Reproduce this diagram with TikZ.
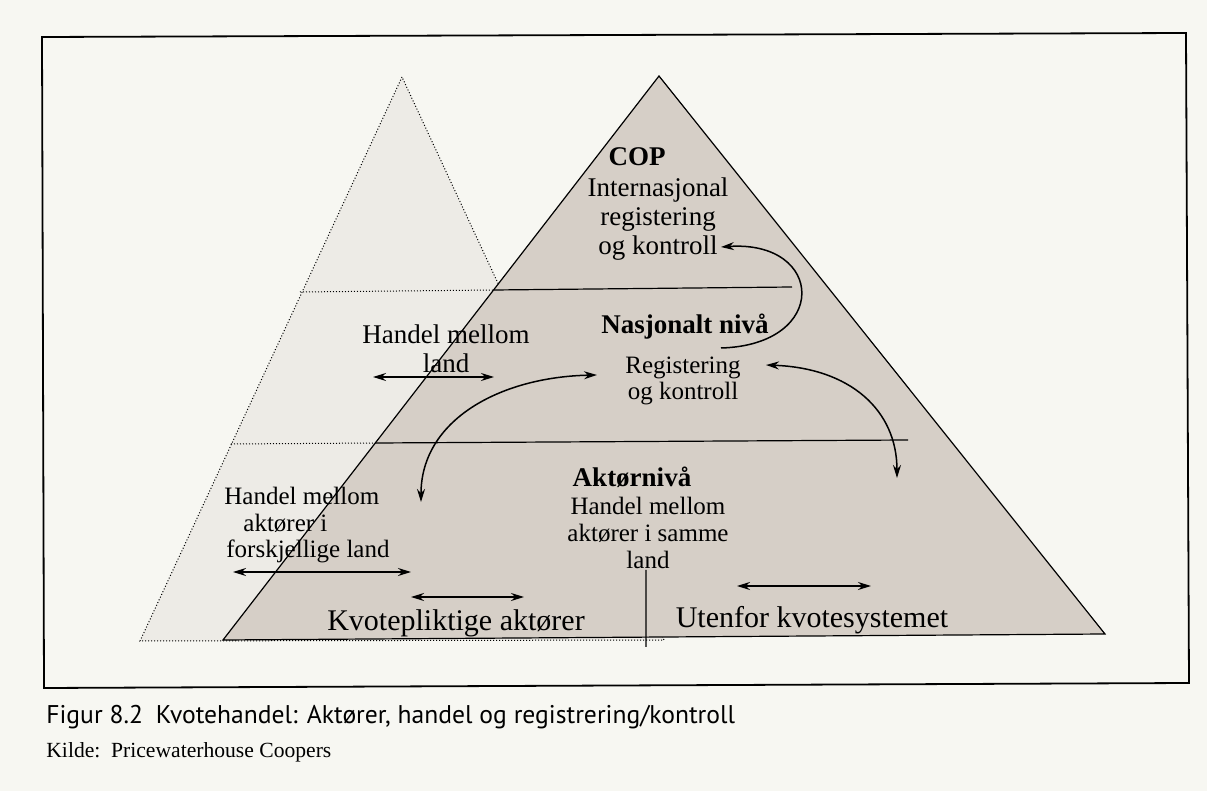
\documentclass[tikz,border=0pt]{standalone}
\usepackage{fontspec}
\setmainfont{Liberation Serif}
\newfontfamily\capfont{PT Sans}
\usetikzlibrary{arrows.meta}
\definecolor{paper}{RGB}{247,247,242}
\definecolor{lightpyr}{RGB}{237,235,230}
\definecolor{darkpyr}{RGB}{214,207,199}

\begin{document}
\begin{tikzpicture}[x=0.5pt,y=-0.5pt,
	txt/.style={inner sep=0pt, align=center, font=\fontsize{12.5}{13.3}\selectfont},
	copt/.style={inner sep=0pt, align=center, font=\fontsize{13.5}{14.5}\selectfont},
	big/.style={inner sep=0pt, font=\fontsize{15}{16}\selectfont},
	head/.style={inner sep=0pt, font=\fontsize{13.5}{14.5}\selectfont\bfseries},
	trade/.style={{Stealth[length=6.5pt,width=4pt]}-{Stealth[length=6.5pt,width=4pt]}, line width=0.75pt},
	oneway/.style={-{Stealth[length=6.5pt,width=4pt]}, line width=0.75pt}]
	\fill[paper] (0,0) rectangle (1207,791);
	\draw[line width=0.9pt] (42,37) -- (1186,33) -- (1189,683) -- (44,688) -- cycle;
	% the two pyramids
	\draw[fill=lightpyr, densely dotted, line width=0.5pt] (402,77) -- (140,641) -- (664,640) -- cycle;
	\draw[fill=darkpyr, line width=0.6pt] (659,76) -- (223,640) -- (1105,634) -- cycle;
	\draw[densely dotted, line width=0.5pt] (300,292) -- (494,290) (231,444) -- (376,443);
	\draw[line width=0.6pt] (494,290) -- (792,287) (376,443) -- (908,440) (646,570) -- (646,647);
	% levels and labels
	\node[head] (cop) at (637,157) {COP};
	\node[copt] (intl) at (658,219) {Internasjonal\\registering\\og kontroll};
	\node[head] (nasj) at (685,327) {Nasjonalt nivå};
	\node[txt] (nreg) at (683,381) {Registering\\og kontroll};
	\node[copt] (land) at (446,349) {Handel mellom\\land};
	\node[head] (aktor) at (632,477) {Aktørnivå};
	\node[txt] (samme) at (648,533) {Handel mellom\\aktører i samme\\land};
	\node[txt, align=left, anchor=north west] (forsk) at (224,487) {Handel mellom\\\hspace*{9.5pt}aktører i\\\hspace*{1pt}forskjellige land};
	\node[big] (kvote) at (456,623) {Kvotepliktige aktører};
	\node[big] (utenfor) at (812,620) {Utenfor kvotesystemet};
	% arrow ends
	\coordinate (landL) at (373,377);
	\coordinate (landR) at (494,377);
	\coordinate (forskL) at (233,572);
	\coordinate (forskR) at (411,572);
	\coordinate (kvoteL) at (411,597);
	\coordinate (kvoteR) at (524,597);
	\coordinate (utenL) at (737,586);
	\coordinate (utenR) at (871,586);
	\coordinate (nasjEnd) at (721,348);
	\coordinate (intlEnd) at (721,247);
	\coordinate (nregEnd) at (766,365);
	\coordinate (aktEnd) at (897,478);
	\coordinate (forskEnd) at (421,502);
	\coordinate (landEnd) at (597,375);
	\draw[trade] (landL) -- (landR);
	\draw[trade] (forskL) -- (forskR);
	\draw[trade] (kvoteL) -- (kvoteR);
	\draw[trade] (utenL) -- (utenR);
	\draw[oneway] (nasjEnd) .. controls (830,345) and (825,240) .. (intlEnd);
	\draw[trade] (nregEnd) .. controls (850,368) and (897,410) .. (aktEnd);
	\draw[trade] (forskEnd) .. controls (421,420) and (500,377) .. (landEnd);
	% caption
	\node[anchor=base west, inner sep=0pt, font=\capfont\fontsize{12.8}{13}\selectfont] (fig) at (46,724) {Figur 8.2\enspace Kvotehandel: Aktører, handel og registrering/kontroll};
	\node[anchor=base west, inner sep=0pt, font=\fontsize{10.8}{12}\selectfont] (kilde) at (46,757) {Kilde:\enspace Pricewaterhouse Coopers};
\end{tikzpicture}
\end{document}
